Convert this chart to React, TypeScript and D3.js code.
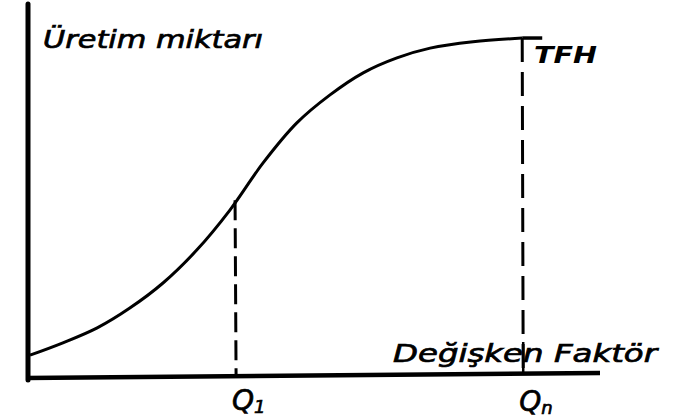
import React from 'react';
import * as d3 from 'd3';

// production curve (factor input -> output), 0..100 scale
const factor = [0.35, 6.1, 12.1, 17.8, 23.6, 29.5, 35.3, 41.1, 47.0, 52.8, 58.6, 64.5, 70.3, 77.8, 86.4, 89.9];
const output = [6.1, 9.4, 13.4, 18.7, 25.4, 34.2, 44.9, 57.5, 68.2, 75.7, 81.6, 85.6, 88.2, 89.9, 90.9, 90.9];

const markLabels = ['Q', 'Q'];
const markSubs = ['1', 'n'];
const markX = [36.2, 86.4];
const markY = [47.5, 90.9];

const yTitle = 'Üretim miktarı';
const xTitle = 'Değişken Faktör';
const capLabel = 'TFH';

const W = 676;
const H = 420;
const font = "'DejaVu Sans', sans-serif";

export default function App() {
  const x = d3.scaleLinear().domain([0, 100]).range([28, 600]);
  const y = d3.scaleLinear().domain([0, 100]).range([378, 4]);

  const pts: [number, number][] = factor.map((f, i) => [f, output[i]]);
  const curve = d3
    .line<[number, number]>()
    .x((d) => x(d[0]))
    .y((d) => y(d[1]))
    .curve(d3.curveCatmullRom.alpha(0.5))(pts.slice(0, pts.length - 1));
  const cap = d3
    .line<[number, number]>()
    .x((d) => x(d[0]))
    .y((d) => y(d[1]))(pts.slice(pts.length - 2));

  const textStyle = { stroke: '#000', strokeWidth: 0.7 };

  return (
    <svg width={W} height={H} style={{ position: 'fixed', left: 0, top: 0, background: '#fff' }}>
      {/* axes */}
      <line x1={x(0)} y1={y(100)} x2={x(0)} y2={y(0) + 2} stroke="#000" strokeWidth={5} strokeLinecap="round" />
      <line x1={x(0) - 2} y1={y(0)} x2={x(100)} y2={y(0) - 5} stroke="#000" strokeWidth={4.5} />

      {/* total product curve */}
      <path d={curve || ''} fill="none" stroke="#000" strokeWidth={3} />
      <path d={cap || ''} fill="none" stroke="#000" strokeWidth={3.5} />

      {/* dashed drop lines */}
      {markX.map((m, i) => (
        <line
          key={'d' + i}
          x1={x(m)}
          x2={x(m) + 1}
          y1={y(markY[i])}
          y2={y(0) - 4}
          stroke="#000"
          strokeWidth={3}
          strokeDasharray={i === 0 ? '20 8' : '24 10'}
        />
      ))}
      {/* small solid piece of Qn line crossing the x title */}
      <line x1={x(markX[1]) + 1} x2={x(markX[1]) + 1} y1={342} y2={373} stroke="#000" strokeWidth={2.5} />

      {markX.map((m, i) => (
        <text key={'q' + i} x={x(m) - 3} y={i === 0 ? 410 : 411} fontFamily={font} fontStyle="italic"
          fontSize={28} fill="#000" style={textStyle}>
          {markLabels[i]}
          <tspan fontSize={18} dy={3}>{markSubs[i]}</tspan>
        </text>
      ))}

      <text x={43} y={48} fontFamily={font} fontStyle="italic" fontSize={25} textLength={220}
        lengthAdjust="spacingAndGlyphs" fill="#000" style={textStyle}>
        {yTitle}
      </text>
      <text x={393} y={362} fontFamily={font} fontStyle="italic" fontSize={24} textLength={264}
        lengthAdjust="spacingAndGlyphs" fill="#000" style={textStyle}>
        {xTitle}
      </text>
      <text x={534} y={63} fontFamily={font} fontStyle="italic" fontWeight="bold" fontSize={23}
        textLength={63} lengthAdjust="spacingAndGlyphs" fill="#000">
        {capLabel}
      </text>
    </svg>
  );
}
